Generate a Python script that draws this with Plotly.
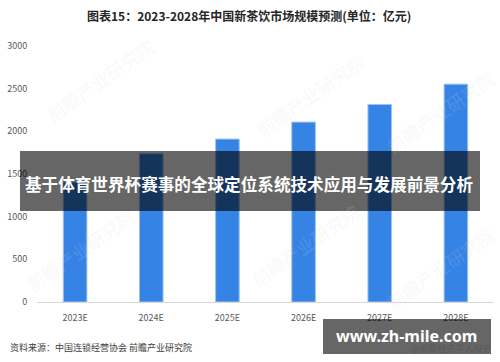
import plotly.graph_objects as go

categories = ["2023E", "2024E", "2025E", "2026E", "2027E", "2028E"]
market_size = [1400, 1737, 1909, 2108, 2314, 2553]
y_ticks = [0, 500, 1000, 1500, 2000, 2500, 3000]

title_text = "图表15：2023-2028年中国新茶饮市场规模预测(单位：亿元)"
banner_text = "基于体育世界杯赛事的全球定位系统技术应用与发展前景分析"
source_text = "资料来源：中国连锁经营协会 前瞻产业研究院"
site_text = "www.zh-mile.com"
app_text = "@前瞻经济学人APP"
wm_text = "前瞻产业研究院"

W, H = 500, 362
ML, MR, MT, MB = 37, 6, 46, 60
PW, PH = W - ML - MR, H - MT - MB

def px(x):
    return (x - ML) / PW

def py(y):
    return (H - MB - y) / PH

CJK = "Noto Sans CJK SC"

fig = go.Figure()
fig.add_trace(go.Bar(
    x=categories, y=market_size,
    marker=dict(color="#3583E5", line=dict(color="#9cc3f2", width=1)),
    width=0.31,
))

shapes = [
    dict(type="rect", xref="paper", yref="paper",
         x0=px(20), x1=px(480), y0=py(211), y1=py(151),
         fillcolor="rgba(0,0,0,0.6)", line=dict(width=0), layer="above"),
]

annotations = []

# faint watermarks
for (wx, wy) in [(100, 80), (310, 95), (440, 112), (80, 250), (305, 245), (440, 268)]:
    annotations.append(dict(text=wm_text, xref="paper", yref="paper",
                            x=px(wx), y=py(wy), showarrow=False, textangle=-35,
                            font=dict(family=CJK, size=18, color="rgba(215,215,215,0.18)"),
                            xanchor="center", yanchor="middle"))

annotations += [
    dict(text="<b>" + title_text + "</b>", xref="paper", yref="paper",
         x=px(249), y=py(15), showarrow=False,
         font=dict(family=CJK, size=12, color="#262626"),
         xanchor="center", yanchor="middle"),
    dict(text="<b>" + banner_text + "</b>", xref="paper", yref="paper",
         x=px(249), y=py(184), showarrow=False,
         font=dict(family=CJK, size=16.6, color="white"),
         xanchor="center", yanchor="middle"),
    dict(text=source_text, xref="paper", yref="paper",
         x=px(8), y=py(347), showarrow=False,
         font=dict(family=CJK, size=9, color="#404040"),
         xanchor="left", yanchor="middle"),
    dict(text=app_text, xref="paper", yref="paper",
         x=px(409), y=py(348), showarrow=False,
         font=dict(family=CJK, size=9, color="#595959"),
         xanchor="left", yanchor="middle"),
]

# bottom site box (drawn as shape) and its text
shapes.append(dict(type="rect", xref="paper", yref="paper",
                   x0=px(323), x1=px(491), y0=py(354), y1=py(319),
                   fillcolor="rgba(0,0,0,0.6)", line=dict(width=0), layer="above"))
annotations.append(dict(text="<b>" + site_text + "</b>", xref="paper", yref="paper",
                        x=px(406), y=py(336), showarrow=False,
                        font=dict(family="Noto Sans", size=16, color="white"),
                        xanchor="center", yanchor="middle"))

fig.update_layout(
    width=W, height=H,
    margin=dict(l=ML, r=MR, t=MT, b=MB, autoexpand=False),
    plot_bgcolor="white", paper_bgcolor="white",
    showlegend=False,
    shapes=shapes, annotations=annotations,
    xaxis=dict(showline=True, linecolor="#d9d9d9", linewidth=1,
               ticks="outside", ticklen=7, tickcolor="rgba(0,0,0,0)",
               tickfont=dict(family=CJK, size=9, color="#595959"),
               showgrid=False, fixedrange=True),
    yaxis=dict(range=[0, 3000], tickvals=y_ticks, showgrid=False,
               zeroline=False, showline=False,
               ticks="outside", ticklen=7, tickcolor="rgba(0,0,0,0)",
               tickfont=dict(family=CJK, size=9, color="#595959"),
               fixedrange=True),
)

fig.write_html("out.html", config={"displayModeBar": False},
               post_script="document.body.style.margin='0';document.body.style.overflow='hidden';")
